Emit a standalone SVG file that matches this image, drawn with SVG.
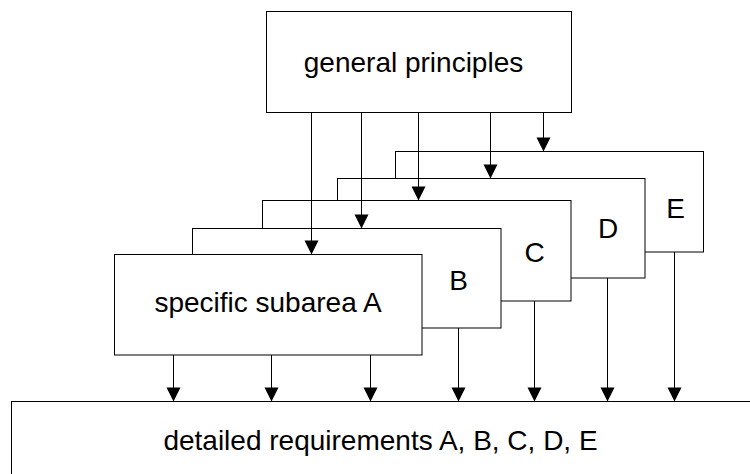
<svg xmlns="http://www.w3.org/2000/svg" width="750" height="474" viewBox="0 0 750 474">
  <style>
    .box { fill: #ffffff; stroke: #000000; stroke-width: 1; }
    .lbl { font-family: "Liberation Sans", Arial, sans-serif; font-size: 28px; fill: #000000; text-anchor: middle; }
    .wire { fill: none; stroke: #000000; stroke-width: 1; marker-end: url(#arrow); }
  </style>
  <defs>
    <marker id="arrow" markerUnits="userSpaceOnUse" markerWidth="16" markerHeight="16" viewBox="0 0 16 16" refX="15" refY="8" orient="auto">
      <path d="M1,1 L15,8 L1,15 Z" fill="#000000"/>
    </marker>
  </defs>
  <rect width="750" height="474" fill="#ffffff"/>

  <!-- detailed requirements (bottom, runs off the page) -->
  <g id="detailed">
    <rect class="box" x="11.5" y="401.5" width="760" height="90"/>
    <text class="lbl" x="380.5" y="450">detailed requirements A, B, C, D, E</text>
  </g>

  <!-- general principles (top) -->
  <g id="general">
    <rect class="box" x="266.5" y="11.5" width="305" height="101"/>
    <text class="lbl" x="413.5" y="72">general principles</text>
  </g>

  <!-- stacked subareas, back to front -->
  <g id="subareaE">
    <rect class="box" x="395.5" y="151.5" width="308" height="100.5"/>
    <text class="lbl" x="675.5" y="218">E</text>
  </g>
  <g id="subareaD">
    <rect class="box" x="337.5" y="178.5" width="307.5" height="99.5"/>
    <text class="lbl" x="608" y="238">D</text>
  </g>
  <g id="subareaC">
    <rect class="box" x="262.5" y="200.5" width="308.5" height="100.5"/>
    <text class="lbl" x="534.5" y="262">C</text>
  </g>
  <g id="subareaB">
    <rect class="box" x="192.5" y="228.5" width="308.5" height="99.5"/>
    <text class="lbl" x="458.5" y="290">B</text>
  </g>
  <g id="subareaA">
    <rect class="box" x="114.5" y="254.5" width="307.5" height="100.5"/>
    <text class="lbl" x="268" y="312">specific subarea A</text>
  </g>

  <!-- connectors -->
  <g id="connectors">
    <!-- general principles to each subarea -->
    <path class="wire" d="M311.5,112.5 V254.5"/>
    <path class="wire" d="M361.5,112.5 V228.5"/>
    <path class="wire" d="M418.5,112.5 V200.5"/>
    <path class="wire" d="M490.5,112.5 V178.5"/>
    <path class="wire" d="M543.5,112.5 V151.5"/>
    <!-- subareas to detailed requirements -->
    <path class="wire" d="M173.5,355 V401.5"/>
    <path class="wire" d="M271.5,355 V401.5"/>
    <path class="wire" d="M370.5,355 V401.5"/>
    <path class="wire" d="M458.5,328 V401.5"/>
    <path class="wire" d="M534.5,301 V401.5"/>
    <path class="wire" d="M607.5,278 V401.5"/>
    <path class="wire" d="M674.5,252 V401.5"/>
  </g>
</svg>
